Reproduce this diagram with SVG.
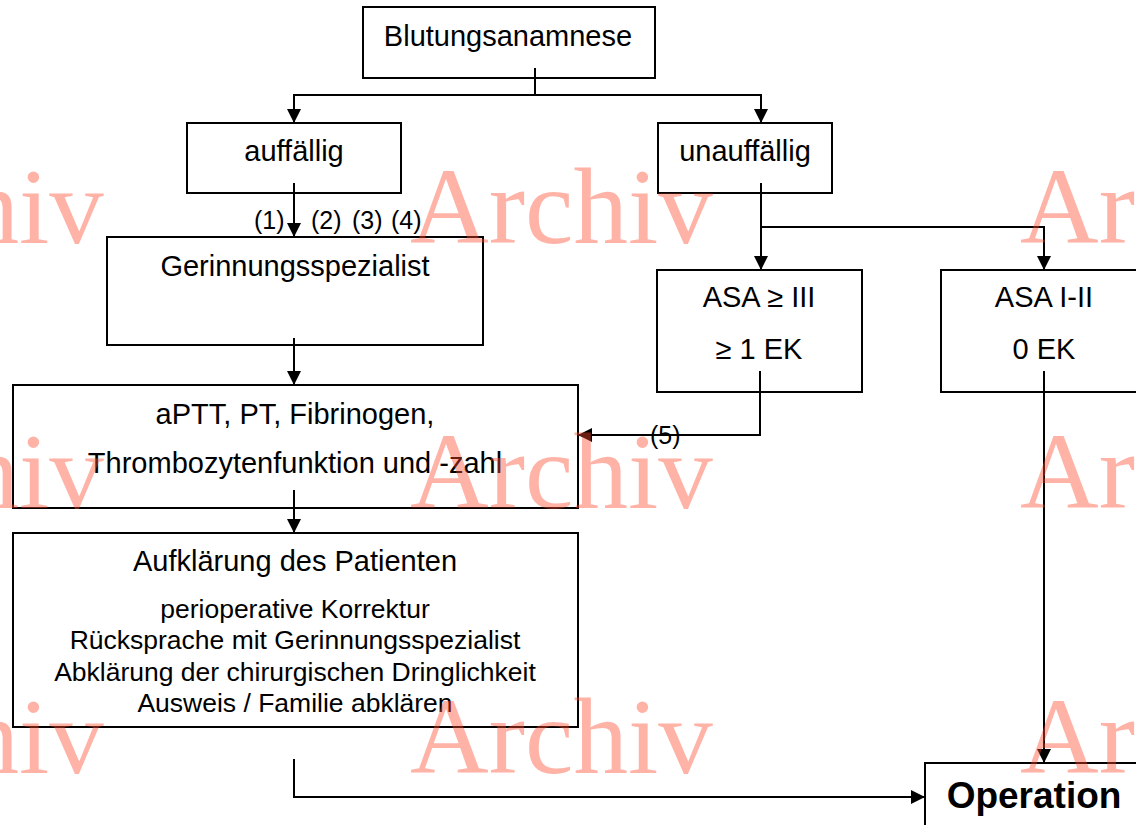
<svg xmlns="http://www.w3.org/2000/svg" width="1136" height="825" viewBox="0 0 1136 825">
<style>
.box{fill:#fff;stroke:#000;stroke-width:2}
.t{font-family:"Liberation Sans",Arial,sans-serif;font-size:29px;fill:#000;text-anchor:middle}
.s{font-family:"Liberation Sans",Arial,sans-serif;font-size:26.5px;fill:#000;text-anchor:middle}
.l{font-family:"Liberation Sans",Arial,sans-serif;font-size:25px;fill:#000}
.b{font-family:"Liberation Sans",Arial,sans-serif;font-size:37px;font-weight:bold;fill:#000;text-anchor:middle}
.c{fill:none;stroke:#000;stroke-width:2}
.wm{font-family:"Liberation Serif","Times New Roman",serif;font-size:109px;fill:rgb(255,75,45);fill-opacity:0.42}
</style>
<defs>
<marker id="ah" markerWidth="14" markerHeight="14" viewBox="0 0 14 14" refX="14" refY="7" orient="auto" markerUnits="userSpaceOnUse">
<path d="M0,0 L14,7 L0,14 Z" fill="#000"/>
</marker>
</defs>
<rect width="1136" height="825" fill="#fff"/>
<g id="n_blutungsanamnese"><rect class="box" x="363" y="7" width="292" height="71"/><text class="t" x="508" y="46">Blutungsanamnese</text></g>
<g id="n_auffaellig"><rect class="box" x="187" y="123" width="214" height="70"/><text class="t" x="294" y="161">auffällig</text></g>
<g id="n_unauffaellig"><rect class="box" x="658" y="123" width="174" height="70"/><text class="t" x="745" y="161">unauffällig</text></g>
<g id="n_gerinnungsspezialist"><rect class="box" x="107" y="237" width="376" height="108"/><text class="t" x="295" y="276">Gerinnungsspezialist</text></g>
<g id="n_asa3"><rect class="box" x="657" y="270" width="205" height="122"/><text class="t" x="759" y="307">ASA ≥ III</text><text class="t" x="759" y="359">≥ 1 EK</text></g>
<g id="n_asa12"><rect class="box" x="941" y="270" width="210" height="122"/><text class="t" x="1044" y="307">ASA I-II</text><text class="t" x="1044" y="359">0 EK</text></g>
<g id="n_aptt"><rect class="box" x="13" y="385" width="565" height="123"/><text class="t" x="295" y="424">aPTT, PT, Fibrinogen,</text><text class="t" x="295" y="473">Thrombozytenfunktion und -zahl</text></g>
<g id="n_aufklaerung"><rect class="box" x="13" y="533" width="565" height="194"/><text class="t" x="295" y="571">Aufklärung des Patienten</text><text class="s" x="295" y="618">perioperative Korrektur</text><text class="s" x="295" y="649">Rücksprache mit Gerinnungsspezialist</text><text class="s" x="295" y="681">Abklärung der chirurgischen Dringlichkeit</text><text class="s" x="295" y="712">Ausweis / Familie abklären</text></g>
<g id="n_operation"><rect class="box" x="925" y="763" width="230" height="80"/><text class="b" x="1034" y="808">Operation</text></g>
<g id="connectors">
<path class="c" d="M535,68 V95 H294 V123" marker-end="url(#ah)"/>
<path class="c" d="M535,95 H761 V123" marker-end="url(#ah)"/>
<path class="c" d="M294,183 V237" marker-end="url(#ah)"/>
<path class="c" d="M294,338 V385" marker-end="url(#ah)"/>
<path class="c" d="M294,490 V533" marker-end="url(#ah)"/>
<path class="c" d="M294,759 V797 H925" marker-end="url(#ah)"/>
<path class="c" d="M761,183 V270" marker-end="url(#ah)"/>
<path class="c" d="M761,227 H1044 V270" marker-end="url(#ah)"/>
<path class="c" d="M760,371 V435 H578" marker-end="url(#ah)"/>
<path class="c" d="M1044,371 V763" marker-end="url(#ah)"/>
<text class="l" x="254" y="229">(1)</text>
<text class="l" x="311" y="229">(2)</text>
<text class="l" x="352" y="229">(3)</text>
<text class="l" x="391" y="229">(4)</text>
<text class="l" x="650" y="444">(5)</text>
</g>
<g id="watermark">
<text class="wm" x="-199" y="243">Archiv</text><text class="wm" x="410" y="243">Archiv</text><text class="wm" x="1020" y="243">Archiv</text>
<text class="wm" x="-199" y="508">Archiv</text><text class="wm" x="410" y="508">Archiv</text><text class="wm" x="1020" y="508">Archiv</text>
<text class="wm" x="-199" y="773">Archiv</text><text class="wm" x="410" y="773">Archiv</text><text class="wm" x="1020" y="773">Archiv</text>
</g>
</svg>
